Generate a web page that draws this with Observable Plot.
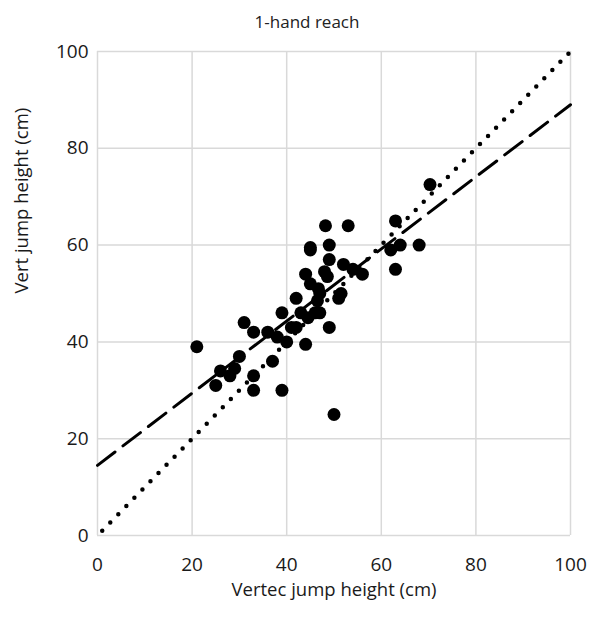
<!DOCTYPE html>
<html>
<head>
<meta charset="utf-8">
<script src="https://cdn.jsdelivr.net/npm/d3@7"></script>
<script src="https://cdn.jsdelivr.net/npm/@observablehq/plot@0.6"></script>
<style>
  body { margin: 0; background: #fff; font-family: "Open Sans", "Noto Sans", sans-serif; }
  #title { height: 30px; width: 592px; text-align: center; font-size: 17px; line-height: 24px; padding-top: 10px; color: #222; padding-left: 22px; box-sizing: border-box; font-family: "Open Sans", "Noto Sans", sans-serif; }
  #chart svg g[aria-label="x-axis tick label"], #chart svg g[aria-label="y-axis tick label"] { font-size: 19px; }
  #chart svg { overflow: visible; }
</style>
</head>
<body>
<div id="title">1-hand reach</div>
<div id="chart"></div>
<script>
const vertec = [21, 25, 26, 28, 29, 30, 31, 33, 33, 33, 36, 37, 38, 39, 39, 40, 41, 42, 42, 43, 44, 44, 44.5, 45, 45, 45, 46, 46.5, 46.7, 47, 47, 48, 48.2, 48.6, 49, 49, 49, 50, 51, 51.5, 52, 53, 54, 56, 62, 63, 63, 64, 68, 70.3];
const vert   = [39, 31, 34, 33, 34.5, 37, 44, 30, 33, 42, 42, 36, 41, 30, 46, 40, 43, 43, 49, 46, 39.5, 54, 45, 59.5, 59, 52, 46, 48.5, 51, 50, 46, 54.5, 64, 53.5, 60, 57, 43, 25, 49, 50, 56, 64, 55, 54, 59, 65, 55, 60, 60, 72.5];
const regX = [0, 100];
const regY = [14.5, 89];
const idX = [1, 100];
const idY = [1, 100];
const ticks = [0, 20, 40, 60, 80, 100];

const points = vertec.map((x, i) => ({x, y: vert[i]}));
const reg = regX.map((x, i) => ({x, y: regY[i]}));
const ident = idX.map((x, i) => ({x, y: idY[i]}));

const plot = Plot.plot({
  width: 592,
  height: 591,
  marginTop: 21,
  marginBottom: 86,
  marginLeft: 97,
  marginRight: 22,
  style: {fontFamily: "'Open Sans', 'Noto Sans', sans-serif", fontSize: "17px", color: "#1a1a1a", background: "#fff"},
  x: {domain: [0, 100], ticks: ticks, tickSize: 0, label: null},
  y: {domain: [0, 100], ticks: ticks, tickSize: 0, label: null},
  marks: [
    Plot.gridX(ticks, {stroke: "#d9d9d9", strokeOpacity: 1, strokeWidth: 1.5}),
    Plot.gridY(ticks, {stroke: "#d9d9d9", strokeOpacity: 1, strokeWidth: 1.5}),
    Plot.axisX({ticks: ticks, tickSize: 0, tickPadding: 22, fontSize: 19}),
    Plot.axisY({ticks: ticks, tickSize: 0, tickPadding: 9, fontSize: 19}),
    Plot.line(ident, {x: "x", y: "y", stroke: "#000", strokeWidth: 4.5, strokeDasharray: "0 11.5", strokeLinecap: "round"}),
    Plot.line(reg, {x: "x", y: "y", stroke: "#000", strokeWidth: 3, strokeDasharray: "22 10"}),
    Plot.dot(points, {x: "x", y: "y", r: 6.5, fill: "#000", stroke: "none"}),
    Plot.text(["Vertec jump height (cm)"], {frameAnchor: "bottom", dy: 60, fontSize: 18.5}),
    Plot.text(["Vert jump height (cm)"], {frameAnchor: "left", dx: -75, rotate: -90, fontSize: 18.5})
  ]
});
document.getElementById("chart").appendChild(plot);
</script>
</body>
</html>
